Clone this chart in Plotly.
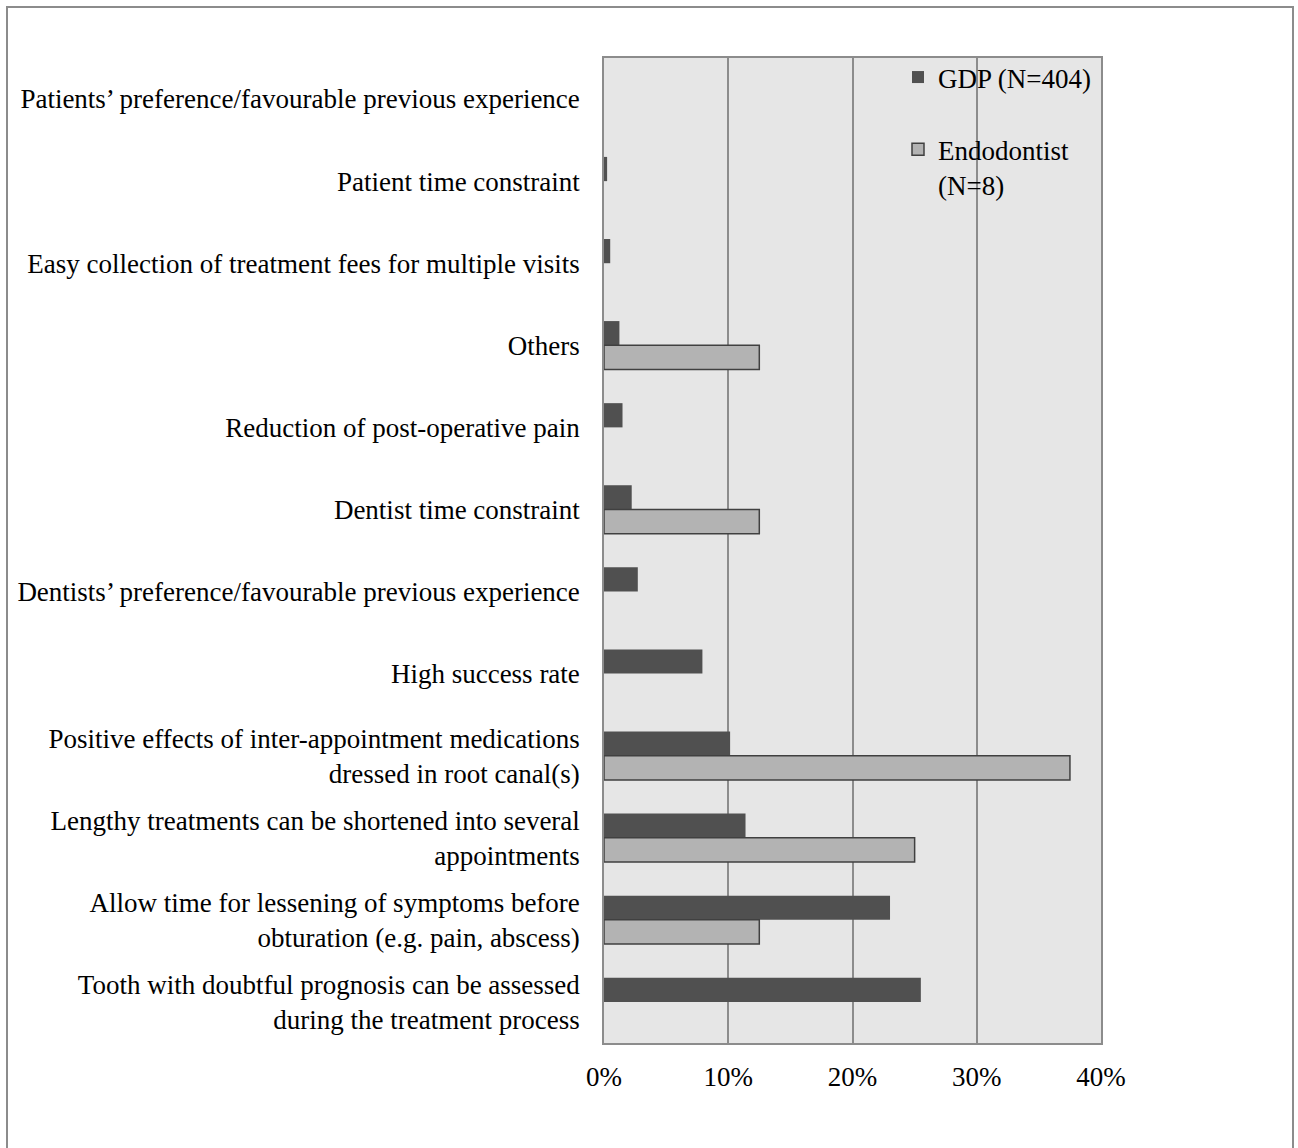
import plotly.graph_objects as go

categories = [
    "Patients’ preference/favourable previous experience",
    "Patient time constraint",
    "Easy collection of treatment fees for multiple visits",
    "Others",
    "Reduction of post-operative pain",
    "Dentist time constraint",
    "Dentists’ preference/favourable previous experience",
    "High success rate",
    "Positive effects of inter-appointment medications<br>dressed in root canal(s)",
    "Lengthy treatments can be shortened into several<br>appointments",
    "Allow time for lessening of symptoms before<br>obturation (e.g. pain, abscess)",
    "Tooth with doubtful prognosis can be assessed<br>during the treatment process",
]

gdp_values = [0.0, 0.25, 0.5, 1.24, 1.49, 2.23, 2.72, 7.92, 10.15, 11.39, 23.02, 25.50]
endo_values = [None, None, None, 12.5, None, 12.5, None, None, 37.5, 25.0, 12.5, None]

series_names = ["GDP (N=404)", "Endodontist<br>(N=8)"]
x_ticks = [0, 10, 20, 30, 40]
x_tick_labels = ["0%", "10%", "20%", "30%", "40%"]

FONT = "Liberation Serif"
FS = 27
W, H = 1298, 1148
L, R, T, B = 604, 1298 - 1101, 58, 1148 - 1043
PW, PH = W - L - R, H - T - B

fig = go.Figure()
fig.add_trace(go.Bar(
    y=categories, x=gdp_values, orientation="h", name=series_names[0],
    marker=dict(color="#505050", line=dict(color="#505050", width=0)),
    legendgroup="g1",
))
fig.add_trace(go.Bar(
    y=categories, x=endo_values, orientation="h", name=series_names[1],
    marker=dict(color="#b3b3b3", line=dict(color="#404040", width=1.5)),
    legendgroup="g2",
))

def px_x(px):
    return (px - L) / PW

def px_y(py):
    return 1 - (py - T) / PH

fig.update_layout(
    width=W, height=H,
    margin=dict(l=L, r=R, t=T, b=B),
    paper_bgcolor="white",
    plot_bgcolor="#e6e6e6",
    font=dict(family=FONT, size=FS, color="#000000"),
    barmode="group",
    bargap=0.41,
    bargroupgap=0,
    showlegend=True,
    legend=dict(
        x=px_x(898), y=px_y(53), xanchor="left", yanchor="top",
        bgcolor="rgba(0,0,0,0)", font=dict(family=FONT, size=FS),
        traceorder="grouped", tracegroupgap=34, valign="top",
    ),
    xaxis=dict(
        range=[0, 40], tickvals=x_ticks, ticktext=x_tick_labels,
        showgrid=True, gridcolor="#8c8c8c", gridwidth=1.5,
        showline=True, linecolor="#8c8c8c", linewidth=1.5, mirror=True,
        zeroline=False, ticks="", ticklabelstandoff=9,
        tickfont=dict(family=FONT, size=FS),
        fixedrange=True,
    ),
    yaxis=dict(
        autorange="reversed", type="category",
        showgrid=False, showline=True, linecolor="#8c8c8c", linewidth=1.5, mirror=True,
        ticks="", ticklabelstandoff=17,
        tickfont=dict(family=FONT, size=FS),
        fixedrange=True,
    ),
    shapes=[dict(
        type="rect", xref="paper", yref="paper",
        x0=px_x(7), x1=px_x(1293), y0=px_y(1170), y1=px_y(7),
        line=dict(color="#8c8c8c", width=2), fillcolor="rgba(0,0,0,0)", layer="below",
    )],
)

fig.write_html("out.html")
